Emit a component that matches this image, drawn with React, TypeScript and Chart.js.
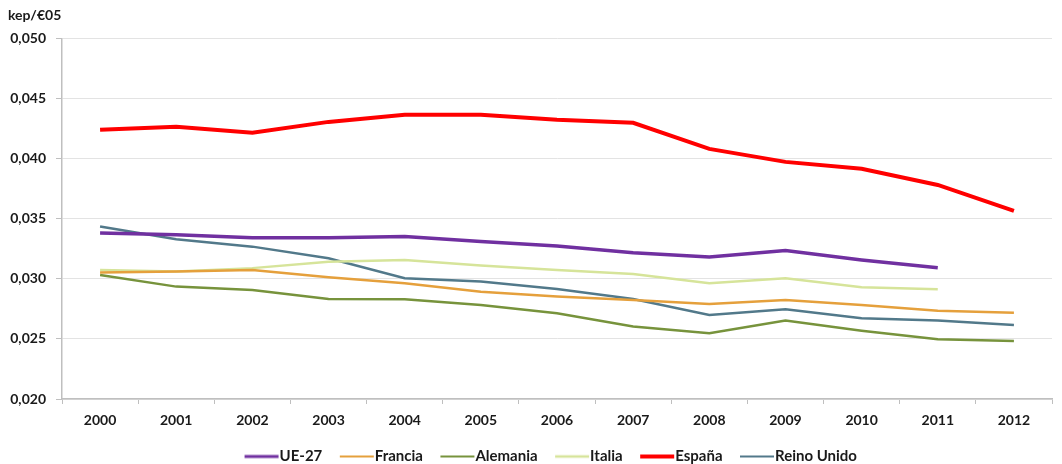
import React, { useEffect, useRef } from "react";
import { Chart, registerables } from "chart.js";

Chart.register(...registerables);

const years = ["2000","2001","2002","2003","2004","2005","2006","2007","2008","2009","2010","2011","2012"];
const ue27 = [0.03383,0.03367,0.03342,0.03342,0.03353,0.03311,0.03275,0.03219,0.03183,0.03236,0.03158,0.03094,null];
const francia = [0.03053,0.03061,0.03075,0.03014,0.02964,0.02894,0.02853,0.02825,0.02792,0.02825,0.02783,0.02736,0.02719];
const alemania = [0.03033,0.02936,0.02908,0.02833,0.02831,0.02783,0.02714,0.02603,0.02547,0.02653,0.02569,0.02497,0.02483];
const italia = [0.03075,0.03061,0.0309,0.03144,0.03158,0.03111,0.03075,0.03042,0.02964,0.03006,0.02931,0.02914,null];
const espana = [0.04242,0.04267,0.04217,0.04308,0.04367,0.04367,0.04325,0.043,0.04083,0.03975,0.03917,0.03783,0.03567];
const reinoUnido = [0.03436,0.0333,0.03269,0.03172,0.03006,0.02978,0.02917,0.02833,0.027,0.02747,0.02672,0.02653,0.02617];

const yTitle = "kep/€05";
const FONT = "Lato, 'Open Sans', sans-serif";

const LEGEND_FONT = 15;
const BOXW = 41;
const HALF_FONT = LEGEND_FONT / 2;

function legendLine(color: string, w: number): HTMLCanvasElement {
  const c = document.createElement("canvas");
  const width = Math.round(BOXW + 2 * HALF_FONT);
  c.width = width;
  c.height = 8;
  const ctx = c.getContext("2d")!;
  ctx.strokeStyle = color;
  ctx.lineWidth = w;
  ctx.beginPath();
  ctx.moveTo(width - 35, 4);
  ctx.lineTo(width - 1, 4);
  ctx.stroke();
  return c;
}

const shiftLegend = {
  id: "shiftLegend",
  afterLayout(chart: any) {
    const lg = chart.legend;
    if (!lg) return;
    lg.left += 14;
    lg.right += 14;
    lg.top += 10;
    lg.bottom += 10;
  },
};

export default function App() {
  const ref = useRef<HTMLCanvasElement | null>(null);
  useEffect(() => {
    if (!ref.current) return;
    const mk = (label: string, data: (number | null)[], color: string, w: number, lw: number) => ({
      label,
      data,
      borderColor: color,
      backgroundColor: color,
      borderWidth: w,
      pointRadius: 0,
      pointHoverRadius: 0,
      pointStyle: legendLine(color, lw),
      tension: 0,
      fill: false,
      spanGaps: false,
    });
    const chart = new Chart(ref.current, {
      type: "line",
      data: {
        labels: years,
        datasets: [
          mk("UE-27", ue27, "#7030A0", 3.5, 3),
          mk("Francia", francia, "#E5A03C", 2.5, 2),
          mk("Alemania", alemania, "#77933C", 2.5, 2),
          mk("Italia", italia, "#D6E49A", 2.5, 2.5),
          mk("España", espana, "#FF0000", 4, 4),
          mk("Reino Unido", reinoUnido, "#52798A", 2.5, 2),
        ],
      },
      plugins: [shiftLegend],
      options: {
        animation: false,
        responsive: true,
        maintainAspectRatio: false,
        layout: { padding: { left: 8, right: 10, top: 4, bottom: 0 } },
        plugins: {
          title: {
            display: true,
            text: yTitle,
            align: "start",
            color: "#1a1a1a",
            font: { family: FONT, size: 14, weight: "bold" },
            padding: { top: 3, bottom: 15 },
          },
          legend: {
            position: "bottom",
            labels: {
              usePointStyle: true,
              pointStyleWidth: BOXW,
              boxWidth: BOXW,
              boxHeight: 8,
              color: "#1a1a1a",
              padding: 4,
              font: { family: FONT, size: LEGEND_FONT, weight: "bold" },
            },
          },
          tooltip: { enabled: false },
        },
        scales: {
          x: {
            offset: true,
            grid: { display: true, offset: true, drawOnChartArea: false, drawTicks: true, tickLength: 5, color: "#bfbfbf" },
            border: { display: true, color: "#bfbfbf", width: 1.5 },
            ticks: {
              color: "#1a1a1a",
              padding: 8,
              font: { family: FONT, size: 14, weight: "bold" },
            },
            afterFit: (s: any) => { s.height = 36; },
          },
          y: {
            min: 0.02,
            max: 0.05,
            grid: { color: "#e3e3e3", tickLength: 6, tickColor: "#bfbfbf" },
            border: { display: true, color: "#bfbfbf", width: 1.5 },
            ticks: {
              stepSize: 0.005,
              color: "#1a1a1a",
              padding: 10,
              font: { family: FONT, size: 14, weight: "bold" },
              callback: (v: any) => Number(v).toFixed(3).replace(".", ","),
            },
            afterFit: (s: any) => { s.width = 54; },
          },
        },
      },
    });
    return () => chart.destroy();
  }, []);
  return (
    <div style={{ position: "fixed", left: 0, top: 0, width: 1062, height: 464, background: "#fff" }}>
      <canvas ref={ref} />
    </div>
  );
}
